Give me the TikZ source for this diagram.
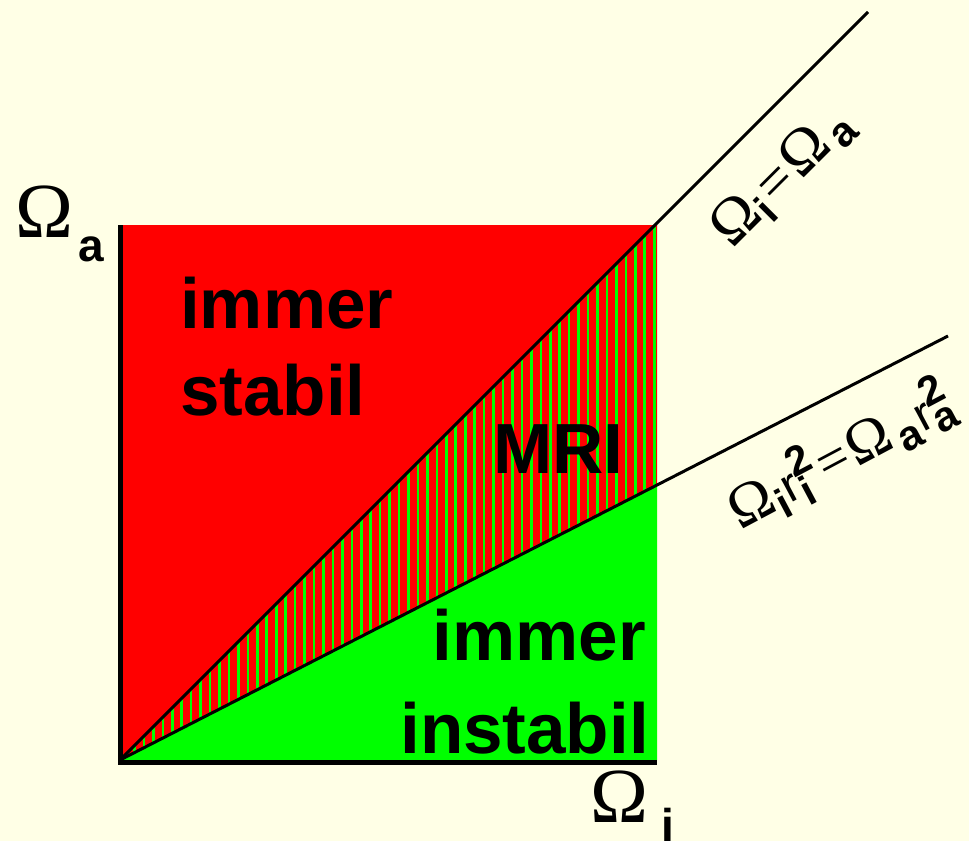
\documentclass[tikz,border=0pt]{standalone}
\usepackage{fontspec}
\setmainfont{Liberation Sans}
\newfontfamily\omf{Liberation Serif}
\definecolor{bg}{RGB}{255,255,230}
\definecolor{rd}{RGB}{255,0,0}
\definecolor{gr}{RGB}{0,255,0}
\newcommand\OmS[1]{{\fontsize{#1}{#1}\selectfont\omf Ω}}
\newcommand\EqS[1]{{\fontsize{#1}{#1}\selectfont\omf =}}
\newcommand\Lo[3]{\raisebox{#2}{\fontsize{#1}{#1}\selectfont\bfseries #3}}
\newcommand\Rr[1]{{\fontsize{#1}{#1}\selectfont r}}
\newcommand\SubSup[4]{\rlap{\Lo{#1}{#4}{#2}}\Lo{#1}{#3}{2}}
\tikzset{
  region/.style={font=\fontsize{71}{75}\selectfont\bfseries, inner sep=0pt, align=left},
  lbl/.style={inner sep=0pt},
  bdline/.style={line width=3pt, black},
}
\begin{document}
\begin{tikzpicture}[x=1pt,y=-1pt]
\useasboundingbox (0,0) rectangle (969,841);
\fill[bg] (0,0) rectangle (969,841);
\coordinate (O) at (120,760);
\coordinate (TL) at (120,225);
\coordinate (TR) at (657,225);
\coordinate (BR) at (657,760);
\coordinate (M) at (657,485);
\coordinate (E1) at (868,12);
\coordinate (E2) at (948,336);
\fill[rd] (O) -- (TL) -- (TR) -- cycle;
\fill[gr] (O) -- (M) -- (BR) -- cycle;
\fill[rd] (O) -- (TR) -- (M) -- cycle;
\begin{scope}
  \clip (O) -- (TR) -- (M) -- cycle;
  \foreach \k in {0,...,58} \draw[gr, line width=2.6pt] ({125+\k*9.45},215) -- ++(0,550);
\end{scope}
\draw[bdline] (O) -- (E1);
\draw[bdline] (O) -- (E2);
\draw[line width=5pt] (TL) -- (120,762.5) -- (657,762.5);
\node[region, anchor=base west] (s1) at (180,328) {immer};
\node[region, anchor=base west] (s2) at (180,415) {stabil};
\node[region, anchor=base west] (mri) at (493,473) {MRI};
\node[region, anchor=base east] (i1) at (646,660) {immer};
\node[region, anchor=base east] (i2) at (649,753) {instabil};
\node[lbl, anchor=base west] (oa) at (15,237) {\OmS{78}\kern5pt\Lo{46}{-24pt}{a}};
\node[lbl, anchor=base west] (oi) at (590,822) {\OmS{78}\kern13pt\Lo{46}{-19pt}{i}};
\node[lbl, rotate=45] (l1) at (783,178) {\OmS{62}\Lo{42}{-11pt}{i}\kern4pt\EqS{58}\kern3pt\OmS{62}\kern6pt\Lo{42}{-9pt}{a}};
\node[lbl, rotate=28] (l2) at (840,456) {\OmS{60}\Lo{42}{-12pt}{i}\kern1pt\Rr{48}\kern-1pt\SubSup{42}{i}{20pt}{-12pt}\kern3pt\EqS{56}\kern3pt\OmS{60}\kern5pt\Lo{42}{-10pt}{a}\kern1pt\Rr{48}\kern-1pt\SubSup{42}{a}{20pt}{-10pt}};
\end{tikzpicture}
\end{document}
